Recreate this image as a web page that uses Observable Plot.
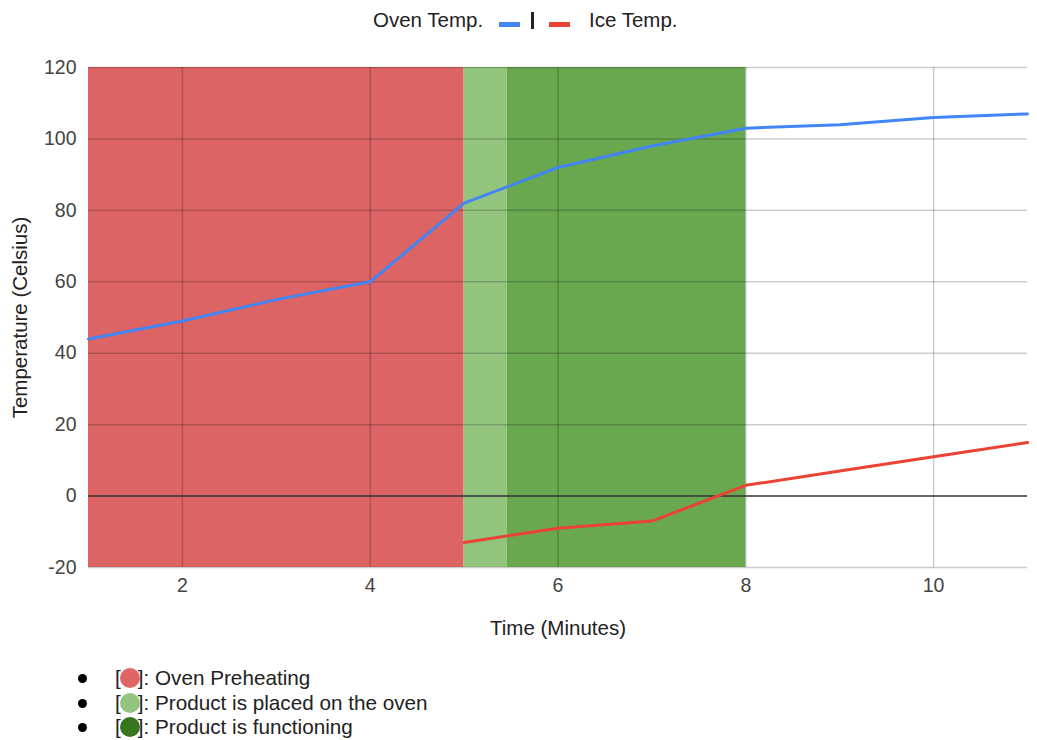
<!DOCTYPE html>
<html>
<head>
<meta charset="utf-8">
<script src="https://cdn.jsdelivr.net/npm/d3@7"></script>
<script src="https://cdn.jsdelivr.net/npm/@observablehq/plot@0.6"></script>
<style>
  body { margin: 0; background: #fff; font-family: "Liberation Sans", Arial, sans-serif; }
  #legend { height: 40px; position: relative; font-size: 20.5px; color: #222; }
  #legend span { position: absolute; top: 8px; white-space: nowrap; line-height: 24px; }
  .dash { display: inline-block; width: 21px; height: 5px; position: absolute; top: 22px; }
  .bar { position: absolute; left: 531px; top: 12px; width: 3px; height: 17px; background: #222; }
  #notes { margin: 16px 0 0 0; padding: 0; list-style: none; font-size: 20.7px; color: #222; }
  #notes li { position: relative; height: 24.5px; line-height: 24.5px; padding-left: 115px; white-space: nowrap; }
  #notes li::before { content: ""; position: absolute; left: 78px; top: 8px; width: 9px; height: 9px; border-radius: 50%; background: #000; }
  .dot { display: inline-block; width: 20px; height: 20px; border-radius: 50%; vertical-align: -3px; margin: 0 -2px 0 -1px; position: relative; }
</style>
</head>
<body>
<div id="legend"></div>
<div id="chart"></div>
<ul id="notes"></ul>
<script>
const minutes = [1, 2, 3, 4, 5, 6, 7, 8, 9, 10, 11];
const ovenTemp = [44, 49, 55, 60, 82, 92, 98, 103, 104, 106, 107];
const iceMinutes = [5, 6, 7, 8, 9, 10, 11];
const iceTemp = [-13, -9, -7, 3, 7, 11, 15];

const phaseStart = [1, 5, 5.46];
const phaseEnd = [5, 5.46, 8];
const phaseColors = ["#dd6464", "#93c47d", "#6aa84f"];
const phaseLabels = ["Oven Preheating", "Product is placed on the oven", "Product is functioning"];
const phaseDotColors = ["#e06666", "#93c47d", "#38761d"];

const seriesNames = ["Oven Temp.", "Ice Temp."];
const seriesColors = ["#4285f4", "#ea4335"];

const xTicks = [2, 4, 6, 8, 10];
const yTicks = [-20, 0, 20, 40, 60, 80, 100, 120];

const ovenData = minutes.map((m, i) => ({x: m, y: ovenTemp[i]}));
const iceData = iceMinutes.map((m, i) => ({x: m, y: iceTemp[i]}));
const phases = phaseStart.map((s, i) => ({x1: s, x2: phaseEnd[i], color: phaseColors[i]}));

// top legend
const lg = document.getElementById("legend");
lg.innerHTML = `<span style="left:373px">${seriesNames[0]}</span>
<div class="dash" style="left:499px;background:${seriesColors[0]}"></div>
<div class="bar"></div>
<div class="dash" style="left:549px;background:${seriesColors[1]}"></div>
<span style="left:589px">${seriesNames[1]}</span>`;

const chart = Plot.plot({
  width: 1037,
  height: 610,
  marginTop: 27,
  marginBottom: 83,
  marginLeft: 88,
  marginRight: 10,
  style: {fontFamily: "'Liberation Sans', Arial, sans-serif", fontSize: "19.5px", color: "#444", background: "#fff"},
  x: {domain: [1, 11], ticks: xTicks, tickSize: 0, tickPadding: 11, label: "Time (Minutes)", labelAnchor: "center", labelArrow: "none", labelOffset: 67},
  y: {domain: [-20, 120], ticks: yTicks, tickSize: 0, tickPadding: 12, tickFormat: d => (d < 0 ? "-" + Math.abs(d) : String(d)), label: "Temperature (Celsius)", labelAnchor: "center", labelArrow: "none", labelOffset: 76},
  marks: [
    Plot.rect(phases, {x1: "x1", x2: "x2", y1: -20, y2: 120, fill: "color"}),
    Plot.gridX(xTicks, {stroke: "#000", strokeOpacity: 0.2, strokeWidth: 1.5}),
    Plot.gridY(yTicks.filter(d => d !== 0), {stroke: "#000", strokeOpacity: 0.2, strokeWidth: 1.5}),
    Plot.ruleY([0], {stroke: "#333", strokeWidth: 1.5}),
    Plot.line(ovenData, {x: "x", y: "y", stroke: seriesColors[0], strokeWidth: 3}),
    Plot.line(iceData, {x: "x", y: "y", stroke: seriesColors[1], strokeWidth: 3})
  ]
});
document.getElementById("chart").appendChild(chart);
d3.select(chart).selectAll("[aria-label='x-axis label'] text, [aria-label='y-axis label'] text")
  .style("font-size", "20.5px").style("fill", "#222");

const notes = document.getElementById("notes");
phaseLabels.forEach((t, i) => {
  const li = document.createElement("li");
  li.innerHTML = `[<span class="dot" style="background:${phaseDotColors[i]}"></span>]: ${t}`;
  notes.appendChild(li);
});
</script>
</body>
</html>
